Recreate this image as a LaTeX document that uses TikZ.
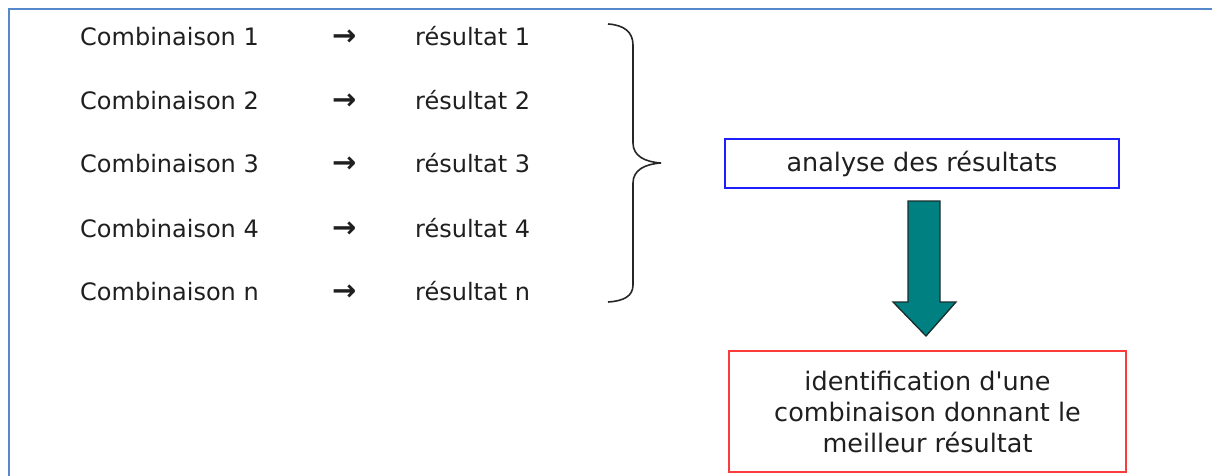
\documentclass[tikz,border=0pt]{standalone}
\usepackage{fontspec}
\setmainfont{DejaVu Sans}
\begin{document}
\begin{tikzpicture}[x=1pt,y=-1pt,
  lbl/.style={anchor=base west,inner sep=0pt,text=black!88,font=\fontsize{24}{30}\selectfont},
  arr/.style={anchor=base west,inner sep=0pt,text=black!88,font=\fontsize{29}{30}\selectfont\bfseries},
  boxtext/.style={inner sep=0pt,text=black!88,font=\fontsize{25.5}{31}\selectfont},
  framecol/.style={draw=frameblue,line width=2pt}]
\definecolor{frameblue}{RGB}{88,136,204}
\definecolor{boxblue}{RGB}{30,30,255}
\definecolor{boxred}{RGB}{250,60,60}
\definecolor{tealfill}{RGB}{0,128,128}
\definecolor{tealline}{RGB}{25,45,45}
\useasboundingbox (0,0) rectangle (1212,476);
% frame (top and left edges visible)
\draw[framecol] (1214,9) -- (9,9) -- (9,478);
% rows
\foreach \i/\y/\k in {1/45.5/1,2/109.5/2,3/172.5/3,4/237.5/4,5/300.5/n}{
  \node[lbl] (c\i) at (80,\y) {Combinaison \k};
  \node[arr] (a\i) at (332,\y) {→};
  \node[lbl] (r\i) at (415,\y) {résultat \k};
}
% brace
\coordinate (btop) at (608,24);
\coordinate (btip) at (661,163);
\coordinate (bbot) at (608,302);
\draw[line width=1.6pt,black!85] (btop) .. controls (624,25) and (633,32) .. (633,45)
  -- (633,143) .. controls (633,156) and (645,162) .. (btip)
  .. controls (645,164) and (633,170) .. (633,183)
  -- (633,285) .. controls (633,296) and (624,301) .. (bbot);
% boxes
\node[boxtext,draw=boxblue,line width=1.6pt,minimum width=394pt,minimum height=49pt] (ana) at (922,163.5) {analyse des résultats};
\node[boxtext,draw=boxred,line width=1.4pt,minimum width=397pt,minimum height=121pt,align=center] (ident) at (927.5,411.5) {identification d\textquotesingle une\\combinaison donnant le\\meilleur résultat};
% big arrow
\coordinate (s1) at (908,201);
\coordinate (s2) at (940,201);
\draw[fill=tealfill,draw=tealline,line width=1.3pt,line join=miter]
  (s1) -- (s2) -- (940,302) -- (956,302) -- (926,336) -- (893,302) -- (908,302) -- cycle;
\end{tikzpicture}
\end{document}
